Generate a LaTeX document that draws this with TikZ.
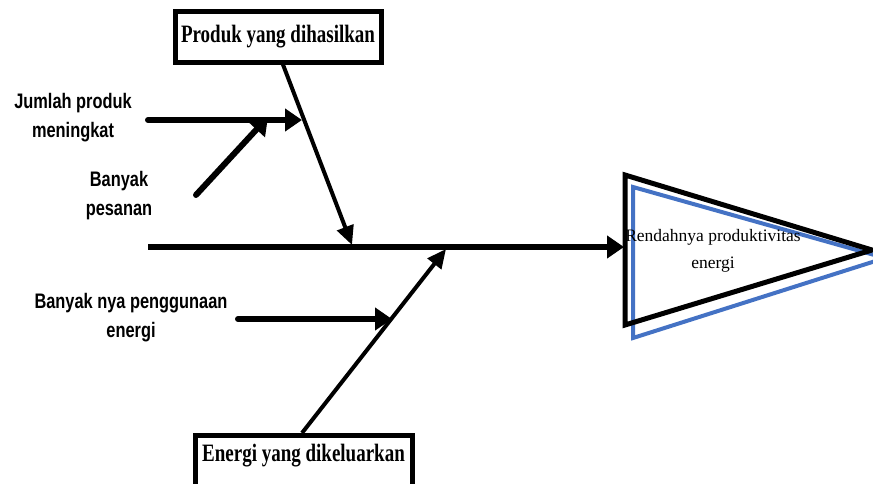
\documentclass[tikz,border=0pt]{standalone}
\usepackage{fontspec}
\setmainfont{Liberation Serif}
\newfontfamily\labfont[FakeStretch=0.78]{Liberation Sans}
\newfontfamily\boxfont[FakeStretch=0.76]{Liberation Serif}
\usetikzlibrary{arrows.meta}
\definecolor{tblue}{RGB}{68,114,196}
\begin{document}
\begin{tikzpicture}[x=1pt,y=-1pt,
  arr/.style={line width=6pt, line cap=round, -{Triangle[length=17pt,width=22pt]}},
  bone/.style={line width=4pt, -{Triangle[length=19pt,width=17pt]}},
  lab/.style={font=\labfont\bfseries\fontsize{21}{29}\selectfont, align=center, inner sep=0pt},
  catbox/.style={draw, line width=5pt, font=\boxfont\bfseries\fontsize{25}{30}\selectfont, inner sep=0pt, fill=white}]
\useasboundingbox (0,0) rectangle (873,484);
% effect triangle
\draw[tblue, line width=4pt] (633,187) -- (885,258) -- (633,338) -- cycle;
\draw[black, line width=5pt] (625,175) -- (872,250) -- (625,325) -- cycle;
\node[font=\fontsize{17.5}{27}\selectfont, align=center, inner sep=0pt] (eff) at (713,251) {Rendahnya produktivitas\\energi};
% category boxes
\node[catbox, minimum width=206pt, minimum height=51pt] (produk) at (278,37) {Produk yang dihasilkan};
\node[catbox, minimum width=217pt, minimum height=58pt, anchor=north] (energi) at (303.5,433) {};
\node[font=\boxfont\bfseries\fontsize{25}{30}\selectfont, inner sep=0pt] (energit) at (303.5,456) {Energi yang dikeluarkan};
% labels
\node[lab] (jumlah) at (73,118) {Jumlah produk\\meningkat};
\node[lab] (pesanan) at (119,196) {Banyak\\pesanan};
\node[lab] (guna) at (131,318) {Banyak nya penggunaan\\energi};
% coordinates
\coordinate (tail) at (148,247);
\coordinate (head) at (624,247);
\coordinate (pt) at (282,62);
\coordinate (pj) at (352,245);
\coordinate (et) at (302,433);
\coordinate (ej) at (446,249);
\coordinate (j0) at (148,120);
\coordinate (j1) at (302,120);
\coordinate (p0) at (196,195);
\coordinate (p1) at (268,117);
\coordinate (g0) at (238,319);
\coordinate (g1) at (392,319);
% spine and bones
\draw[arr, line cap=butt] (tail) -- (head);
\draw[bone] (pt) -- (pj);
\draw[bone] (et) -- (ej);
\draw[arr] (j0) -- (j1);
\draw[arr] (p0) -- (p1);
\draw[arr] (g0) -- (g1);
\end{tikzpicture}
\end{document}
